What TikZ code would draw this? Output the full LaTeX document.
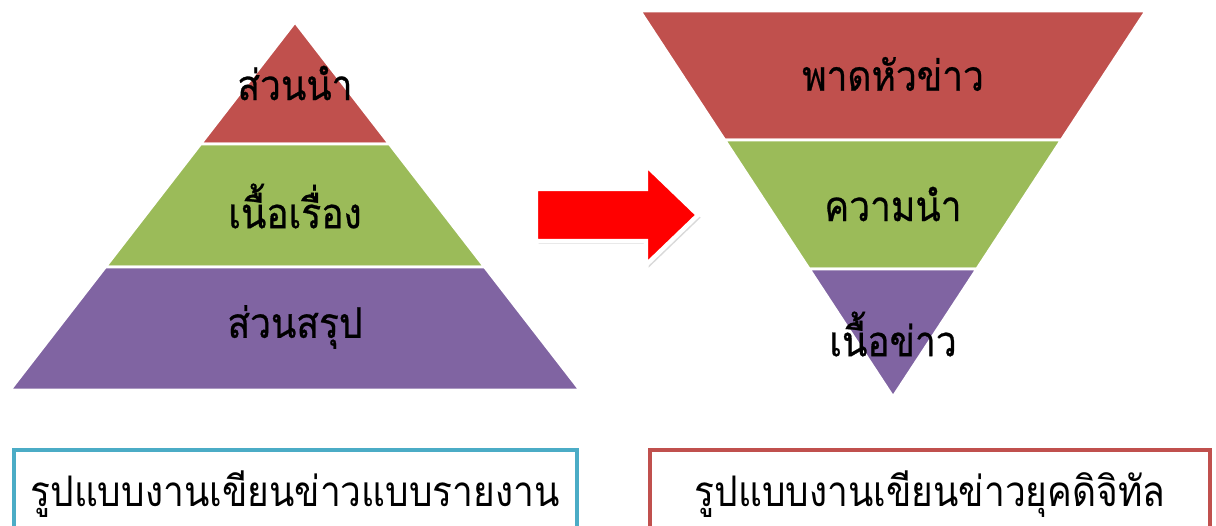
\documentclass[tikz,border=0pt]{standalone}
\usepackage{fontspec}
\newfontfamily\thaifont[Script=Thai, FakeBold=0.6, FakeStretch=0.88]{Loma}
\newfontfamily\thaicapfont[Script=Thai, FakeStretch=0.88]{Loma}
\usetikzlibrary{shadows}

\definecolor{segred}{HTML}{C0504D}
\definecolor{seggreen}{HTML}{9BBB59}
\definecolor{segpurple}{HTML}{8064A2}
\definecolor{capblue}{HTML}{4BACC6}

\tikzset{
    segment/.style={draw=white, line width=1.7pt, line join=miter},
    caption/.style={draw=#1, line width=2.2pt, fill=white},
    captext/.style={font=\thaicapfont\fontsize{24}{26}\selectfont}
}

\begin{document}
\begin{tikzpicture}[x=0.02cm, y=-0.02cm,
    every node/.style={font=\thaifont\fontsize{24}{26}\selectfont, inner sep=0pt}]

    \useasboundingbox (0,0) rectangle (1216,526);
    \clip (0,0) rectangle (1216,526);

    % Pyramid
    \filldraw[segred, segment] (295,22) -- (389.5,144) -- (200.5,144) -- cycle;
    \filldraw[seggreen, segment] (200.5,144) -- (389.5,144) -- (484.7,267) -- (105.3,267) -- cycle;
    \filldraw[segpurple, segment] (105.3,267) -- (484.7,267) -- (580,390) -- (10,390) -- cycle;

    % Inverted pyramid
    \filldraw[segred, segment] (640,11) -- (1146,11) -- (1061.4,140) -- (724.6,140) -- cycle;
    \filldraw[seggreen, segment] (724.6,140) -- (1061.4,140) -- (976.9,269) -- (809.1,269) -- cycle;
    \filldraw[segpurple, segment] (809.1,269) -- (976.9,269) -- (893,397) -- cycle;

    % Arrow
    \filldraw[fill=red, draw=white, line width=2.5pt, line join=miter,
        drop shadow={opacity=0.3, shadow xshift=1.5pt, shadow yshift=-1.5pt}]
        (536,189) -- (646,189) -- (646,165) -- (698,215) -- (646,265)
        -- (646,241) -- (536,241) -- cycle;

    % Nodes
    \node (lead) at (295,83) {ส่วนนำ};
    \node (body) at (295,206) {เนื้อเรื่อง};
    \node (ending) at (295,327) {ส่วนสรุป};

    \node (headline) at (893,74) {พาดหัวข่าว};
    \node (intro) at (893,204) {ความนำ};
    \node (newsbody) at (893,334) {เนื้อข่าว};

    % Captions
    \draw[caption=capblue] (14,450) rectangle (577,545);
    \draw[caption=segred] (650,450) rectangle (1210,545);
    \node[captext] (reportcap) at (295,494) {รูปแบบงานเขียนข่าวแบบรายงาน};
    \node[captext] (digitalcap) at (930,494) {รูปแบบงานเขียนข่าวยุคดิจิทัล};

\end{tikzpicture}
\end{document}
